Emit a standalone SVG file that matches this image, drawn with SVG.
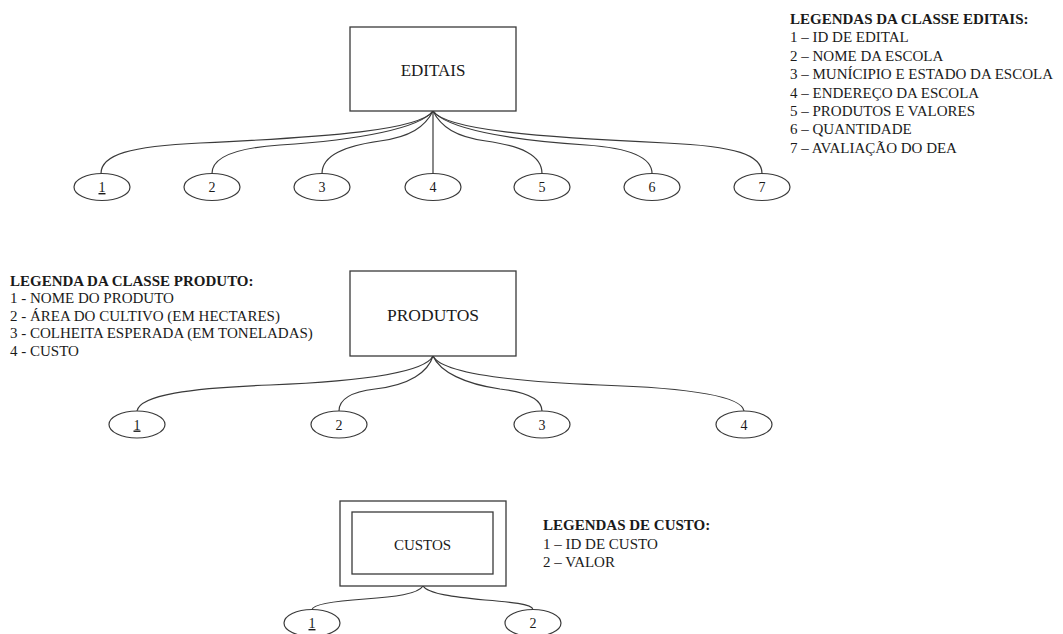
<svg xmlns="http://www.w3.org/2000/svg" width="1063" height="634" viewBox="0 0 1063 634">
<style>
.bg{fill:#ffffff}
.box{fill:#ffffff;stroke:#3a3a3a;stroke-width:1.3}
.ell{fill:#ffffff;stroke:#3a3a3a;stroke-width:1.2}
.con{fill:none;stroke:#3a3a3a;stroke-width:1.2}
.t{font-family:"Liberation Serif","Times New Roman",serif;fill:#1a1a1a}
.lbl{font-size:14px;text-anchor:middle}
.leg{font-size:15px}
.legt{font-size:15px;font-weight:bold}
.u{text-decoration:underline}
</style>
<rect class="bg" x="0" y="0" width="1063" height="634"/>

<g id="connectors">
  <path class="con" d="M433,111 C420,130 330,137 200,143 C130,146 101,155 101,173.5"/>
  <path class="con" d="M433,111 C420,128 360,140 280,145 C235,148 212,158 212,173.5"/>
  <path class="con" d="M433,111 C425,127 410,137 380,141 C345,146 322,155 322,173.5"/>
  <path class="con" d="M433,111 L433,173.5"/>
  <path class="con" d="M433,111 C441,127 456,137 486,141 C521,146 542,155 542,173.5"/>
  <path class="con" d="M433,111 C446,128 506,140 586,145 C631,148 652,158 652,173.5"/>
  <path class="con" d="M433,111 C446,130 536,137 666,143 C736,146 762,155 762,173.5"/>

  <path class="con" d="M433,356 C425,372 370,381 270,385 C190,388 140,395 137,411"/>
  <path class="con" d="M433,356 C428,372 410,385 375,389 C350,392 339,400 339,411"/>
  <path class="con" d="M433,356 C440,372 465,384 500,389 C525,392 542,399 542,411"/>
  <path class="con" d="M433,356 C441,372 500,381 600,385 C690,388 742,396 744,411"/>

  <path class="con" d="M423,586 C418,594 395,597 365,599 C335,601 313,604 312,609.5"/>
  <path class="con" d="M423,586 C428,594 455,597 485,600 C510,602 532,604 533,609.5"/>
</g>

<g id="editais">
  <rect class="box" x="350" y="27" width="166" height="84"/>
  <text class="t" x="433" y="76" font-size="17" text-anchor="middle">EDITAIS</text>
</g>
<g id="editais-attr-1"><ellipse class="ell" cx="102" cy="187" rx="28" ry="13.5"/><text class="t lbl u" x="102" y="192">1</text></g>
<g id="editais-attr-2"><ellipse class="ell" cx="212" cy="187" rx="28" ry="13.5"/><text class="t lbl" x="212" y="192">2</text></g>
<g id="editais-attr-3"><ellipse class="ell" cx="322" cy="187" rx="28" ry="13.5"/><text class="t lbl" x="322" y="192">3</text></g>
<g id="editais-attr-4"><ellipse class="ell" cx="433" cy="187" rx="28" ry="13.5"/><text class="t lbl" x="433" y="192">4</text></g>
<g id="editais-attr-5"><ellipse class="ell" cx="542" cy="187" rx="28" ry="13.5"/><text class="t lbl" x="542" y="192">5</text></g>
<g id="editais-attr-6"><ellipse class="ell" cx="652" cy="187" rx="28" ry="13.5"/><text class="t lbl" x="652" y="192">6</text></g>
<g id="editais-attr-7"><ellipse class="ell" cx="762" cy="187" rx="28" ry="13.5"/><text class="t lbl" x="762" y="192">7</text></g>

<g id="legenda-editais">
  <text class="t legt" x="790" y="24">LEGENDAS DA CLASSE EDITAIS:</text>
  <text class="t leg" x="790" y="42.4">1 – ID DE EDITAL</text>
  <text class="t leg" x="790" y="60.8">2 – NOME DA ESCOLA</text>
  <text class="t leg" x="790" y="79.2">3 – MUNÍCIPIO E ESTADO DA ESCOLA</text>
  <text class="t leg" x="790" y="97.6">4 – ENDEREÇO DA ESCOLA</text>
  <text class="t leg" x="790" y="116">5 – PRODUTOS E VALORES</text>
  <text class="t leg" x="790" y="134.4">6 – QUANTIDADE</text>
  <text class="t leg" x="790" y="152.8">7 – AVALIAÇÃO DO DEA</text>
</g>

<g id="produtos">
  <rect class="box" x="350" y="271" width="166" height="85"/>
  <text class="t" x="433" y="321" font-size="17.5" text-anchor="middle">PRODUTOS</text>
</g>
<g id="produtos-attr-1"><ellipse class="ell" cx="137" cy="424.5" rx="28" ry="13.5"/><text class="t lbl u" x="137" y="429.5">1</text></g>
<g id="produtos-attr-2"><ellipse class="ell" cx="339" cy="424.5" rx="28" ry="13.5"/><text class="t lbl" x="339" y="429.5">2</text></g>
<g id="produtos-attr-3"><ellipse class="ell" cx="542" cy="424.5" rx="28" ry="13.5"/><text class="t lbl" x="542" y="429.5">3</text></g>
<g id="produtos-attr-4"><ellipse class="ell" cx="744" cy="424.5" rx="28" ry="13.5"/><text class="t lbl" x="744" y="429.5">4</text></g>

<g id="legenda-produto">
  <text class="t legt" x="10" y="286">LEGENDA DA CLASSE PRODUTO:</text>
  <text class="t leg" x="10" y="303">1 - NOME DO PRODUTO</text>
  <text class="t leg" x="10" y="320.5">2 - ÁREA DO CULTIVO (EM HECTARES)</text>
  <text class="t leg" x="10" y="338">3 - COLHEITA ESPERADA (EM TONELADAS)</text>
  <text class="t leg" x="10" y="355.5">4 - CUSTO</text>
</g>

<g id="custos">
  <rect class="box" x="340" y="501" width="166" height="85"/>
  <rect class="box" x="352" y="512" width="141" height="62"/>
  <text class="t" x="422.5" y="549.5" font-size="15" text-anchor="middle">CUSTOS</text>
</g>
<g id="custos-attr-1"><ellipse class="ell" cx="312" cy="623" rx="28" ry="13.5"/><text class="t lbl u" x="312" y="628">1</text></g>
<g id="custos-attr-2"><ellipse class="ell" cx="533" cy="623" rx="28" ry="13.5"/><text class="t lbl" x="533" y="628">2</text></g>

<g id="legenda-custo">
  <text class="t legt" x="543" y="530">LEGENDAS DE CUSTO:</text>
  <text class="t leg" x="543" y="548.5">1 – ID DE CUSTO</text>
  <text class="t leg" x="543" y="567">2 – VALOR</text>
</g>
</svg>
